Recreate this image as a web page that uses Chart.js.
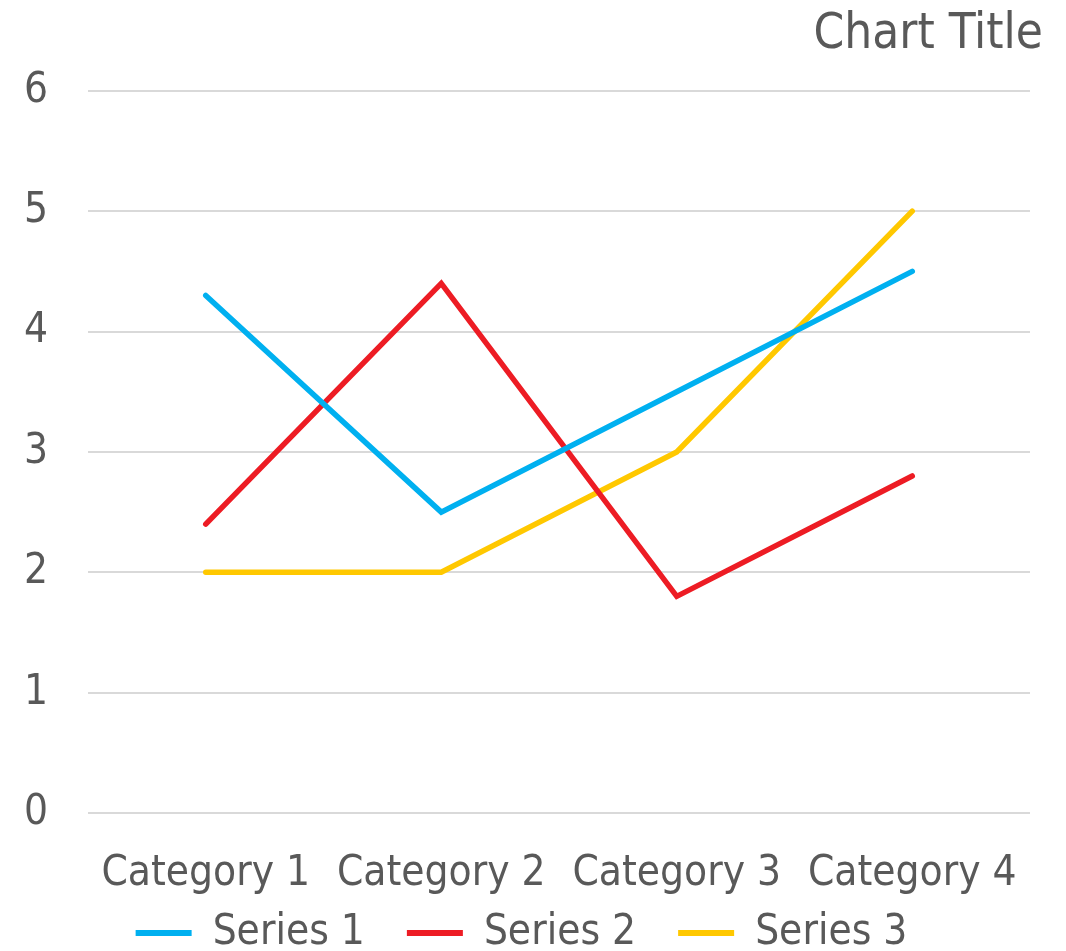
<!DOCTYPE html>
<html>
<head>
<meta charset="utf-8">
<script src="https://cdn.jsdelivr.net/npm/chart.js@4.4.1/dist/chart.umd.min.js"></script>
<style>
    html, body { margin: 0; padding: 0; background: #fff; }
    #wrap { width: 1066px; height: 951px; }
</style>
</head>
<body>
<div id="wrap"><canvas id="line-chart"></canvas></div>
<script>
const categories = ['Category 1', 'Category 2', 'Category 3', 'Category 4'];
const series1 = [4.3, 2.5, 3.5, 4.5];
const series2 = [2.4, 4.4, 1.8, 2.8];
const series3 = [2, 2, 3, 5];
const seriesNames = ['Series 1', 'Series 2', 'Series 3'];
const yTicks = [0, 1, 2, 3, 4, 5, 6];

const textColor = '#595959';
const fontFamily = '"DejaVu Sans Condensed", "DejaVu Sans", sans-serif';

Chart.defaults.font.family = fontFamily;
Chart.defaults.color = textColor;

function lineDataset(label, data, color) {
    return {
        label: label,
        data: data,
        borderColor: color,
        backgroundColor: color,
        borderWidth: 5.5,
        borderCapStyle: 'round',
        borderJoinStyle: 'miter',
        tension: 0,
        fill: false,
        pointRadius: 0,
        pointHoverRadius: 0
    };
}

const ctx = document.getElementById('line-chart').getContext('2d');
window.lineChart = new Chart(ctx, {
    type: 'line',
    data: {
        labels: categories,
        datasets: [
            lineDataset(seriesNames[0], series1, '#00B0F0'),
            lineDataset(seriesNames[1], series2, '#ED1C24'),
            lineDataset(seriesNames[2], series3, '#FFC800')
        ]
    },
    options: {
        responsive: true,
        maintainAspectRatio: false,
        animation: false,
        layout: {
            padding: {left: 0, right: 23, top: 0, bottom: 0}
        },
        plugins: {
            title: {
                display: true,
                text: 'Chart Title',
                align: 'end',
                color: textColor,
                font: {size: 49, weight: 'normal'},
                padding: {top: 6, bottom: 26}
            },
            legend: {
                position: 'bottom',
                maxHeight: 50,
                // empty title with negative padding pulls the row down into place
                title: {
                    display: true,
                    text: '',
                    font: {size: 1, lineHeight: 1},
                    padding: {top: -32, bottom: 0}
                },
                labels: {
                    color: textColor,
                    font: {size: 42},
                    boxWidth: 56,
                    boxHeight: 6,
                    padding: 42,
                    generateLabels: function (chart) {
                        return chart.data.datasets.map((ds, i) => ({
                            text: ds.label,
                            fillStyle: ds.borderColor,
                            strokeStyle: ds.borderColor,
                            lineWidth: 0,
                            fontColor: textColor,
                            datasetIndex: i
                        }));
                    }
                }
            },
            tooltip: {
                enabled: false
            }
        },
        scales: {
            x: {
                afterFit: function (axis) {
                    axis.height = 88;
                },
                grid: {
                    display: false,
                    drawTicks: false
                },
                border: {
                    display: false
                },
                ticks: {
                    color: textColor,
                    font: {size: 42},
                    padding: 36,
                    maxRotation: 0
                },
                offset: true
            },
            y: {
                min: 0,
                max: 6,
                afterBuildTicks: function (axis) {
                    axis.ticks = yTicks.map(v => ({value: v}));
                },
                afterFit: function (axis) {
                    axis.width = 88;
                },
                grid: {
                    color: '#D9D9D9',
                    lineWidth: 2,
                    drawTicks: false
                },
                border: {
                    display: false
                },
                ticks: {
                    color: textColor,
                    font: {size: 42},
                    padding: 40
                }
            },
            yRight: {
                axis: 'y',
                position: 'right',
                afterFit: function (axis) {
                    axis.width = 13;
                },
                grid: {
                    display: false
                },
                border: {
                    display: false
                },
                ticks: {
                    display: false
                }
            }
        }
    }
});
</script>
</body>
</html>
